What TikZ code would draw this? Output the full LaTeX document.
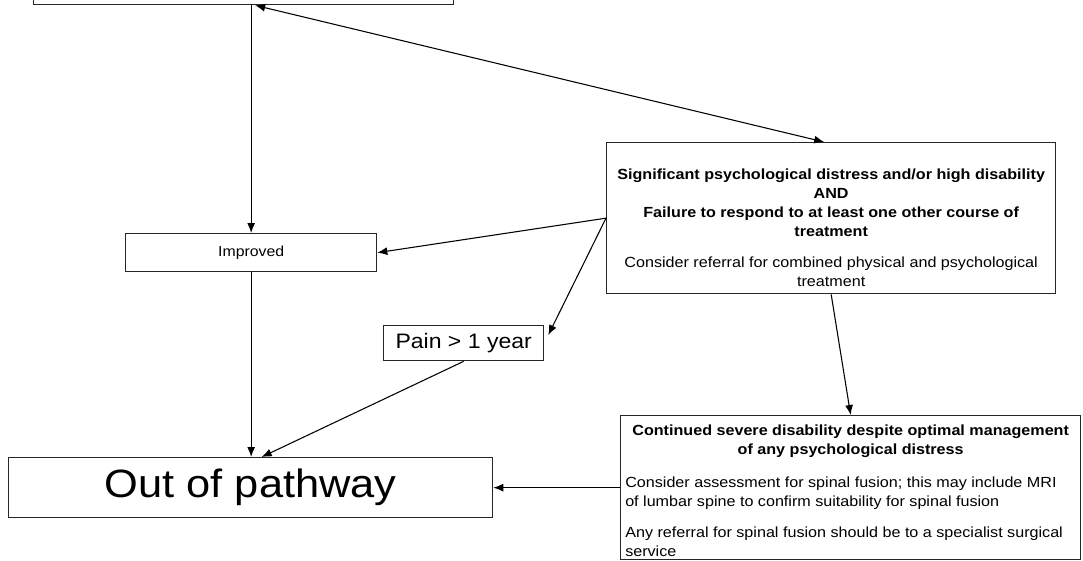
\documentclass[tikz,border=0pt]{standalone}
\usepackage{fontspec}
\setmainfont[FakeStretch=1.1]{Liberation Sans}
\usetikzlibrary{calc,arrows.meta}
\begin{document}
\begin{tikzpicture}[x=0.75pt,y=-0.75pt,
  box/.style={draw=black!85,line width=1pt,inner sep=0pt,anchor=north west},
  conn/.style={line width=0.8pt,-{Latex[length=7.5pt,width=6pt]}},
  dconn/.style={line width=0.8pt,{Latex[length=7.5pt,width=6pt]}-{Latex[length=7.5pt,width=6pt]}},
  small/.style={font=\fontsize{11}{14.25}\selectfont,inner sep=0pt},
  smallbold/.style={font=\fontsize{11}{14.25}\selectfont\bfseries,inner sep=0pt}]
\useasboundingbox (0,0) rectangle (1083,561);
% boxes
\node[box,minimum width=315pt,minimum height=33pt] (top) at (33,-40) {};
\node[box,minimum width=336.75pt,minimum height=113.25pt] (sig) at (606,142) {};
\node[box,minimum width=188.25pt,minimum height=28.5pt,font=\fontsize{10.8}{13}\selectfont] (imp) at (125,233) {Improved};
\node[box,minimum width=120pt,minimum height=26.25pt,font=\fontsize{15.7}{18}\selectfont] (pain) at (383,325) {Pain > 1 year};
\node[box,minimum width=345pt,minimum height=108pt] (bot) at (620,415) {};
\node[box,minimum width=363pt,minimum height=45pt,font=\fontsize{29.6}{34}\selectfont] (out) at (8,457) {Out of pathway};
% texts
\node[small,anchor=north,align=center] (sigtxt) at ($(sig.north)+(0,27)$)
  {\textbf{Significant psychological distress and/or high disability}\\
   \textbf{AND}\\
   \textbf{Failure to respond to at least one other course of}\\
   \textbf{treatment}\\[9pt]
   Consider referral for combined physical and psychological\\
   treatment};
\node[smallbold,anchor=north,align=center] (bottitle) at ($(bot.north)+(0,10)$)
  {Continued severe disability despite optimal management\\
   of any psychological distress};
\node[small,anchor=north west,align=left] (botbody) at ($(bot.north west)+(5,62)$)
  {Consider assessment for spinal fusion; this may include MRI\\
   of lumbar spine to confirm suitability for spinal fusion\\[9pt]
   Any referral for spinal fusion should be to a specialist surgical\\
   service};
% connectors
\draw[conn] (imp.north |- top.south) -- (imp.north);
\draw[dconn] ($(imp.north |- top.south)+(4,0)$) -- ($(sig.north)+(-7,0)$);
\draw[conn] (sig.west) -- (imp.east);
\draw[conn] (sig.west) -- ($(pain.north east)+(4,10)$);
\draw[conn] (imp.south) -- (imp.south |- out.north);
\draw[conn] (pain.south) -- ($(out.north)+(11,0)$);
\draw[conn] (sig.south) -- (bot.north);
\draw[conn] (bot.west) -- (out.east);
\end{tikzpicture}
\end{document}
